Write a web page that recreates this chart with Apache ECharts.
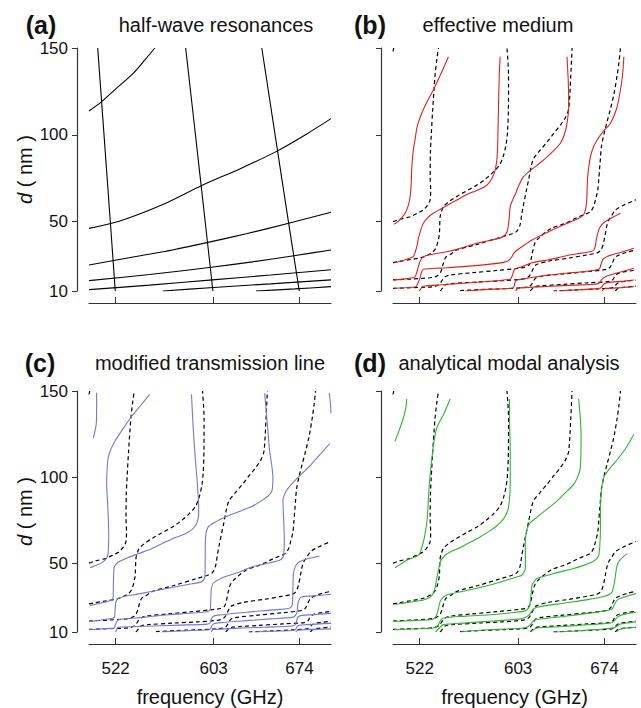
<!DOCTYPE html>
<html>
<head>
<meta charset="utf-8">
<script src="https://cdn.jsdelivr.net/npm/echarts@6/dist/echarts.min.js"></script>
<style>
  html, body { margin: 0; padding: 0; background: #fff; }
  #chart { width: 641px; height: 708px; }
</style>
</head>
<body>
<div id="chart"></div>
<script>
// axis ticks
var freqTicks = [522, 603, 674];
var dTicks = [10, 50, 100, 150];

// (a) half-wave resonances
var hwV1 = [[507.2,150],[517.6,50],[521.7,10]];
var hwV2 = [[579.9,150],[592.8,70],[602.4,10]];
var hwV3 = [[642.8,150],[664.8,50],[673.8,10]];
var hwH1 = [[500,113.7],[510.5,119.1],[523,127],[536.5,135.4],[546,143],[554.4,150]];
var hwH2 = [[500,46.1],[525.5,50.3],[560,59.5],[592.8,70.7],[625,80.5],[654.6,90.3],[680,100.5],[700,109.3]];
var hwH3 = [[500,25],[540,30],[570,33.8],[598.3,38],[630,43],[665,49],[700,55.4]];
var hwH4 = [[500,16],[550,19.5],[601,23.7],[635,26.8],[668,30.2],[700,33.6]];
var hwH5 = [[500,10.8],[550,13.4],[602,16.4],[650,19.2],[700,22.2]];
var hwH6 = [[561,10],[600,11.9],[650,14.1],[700,16.4]];
var hwH7 = [[638,10],[670,11.2],[700,12.5]];

// numerical reference (black dashed, panels b-d)
var numA = [[500,148],[500.6,150]];
var numB = [[500,50],[505,51.2],[514,52.8],[520,54.8],[525,56.7],[528.5,59.5],[530.5,62.4],[531,68],[530.6,76],[530.8,90],[531.5,100],[532.7,115],[534.6,134],[536,143],[537.4,150]];
var numC = [[500,26.3],[504.4,26.9],[515,28.2],[525,29.6],[531.9,32],[534.5,33.8],[536,36],[537.5,40],[538.2,43.2],[538.8,52.8],[540,56],[541.5,58.6],[546,61.5],[552.5,64.5],[560,67.5],[569,71],[576,74.5],[582.7,78.6],[588,83],[591,88.2],[593.2,95],[594.3,102],[595,115],[595.1,134],[593.8,150]];
var numD = [[500,16.4],[515,16.9],[527,17.4],[533.2,17.9],[536.5,18.8],[538.8,20.3],[540.3,23],[541.5,26],[543.5,29.5],[547,31],[552.5,33.6],[570,37],[588.2,40.9],[598,43],[602,44.5],[604.5,48],[606.1,54.8],[607.5,60],[609.5,67],[611.6,74],[613.5,81],[615.7,86.2],[621,91],[626.8,95.8],[632,100.5],[637.7,105.5],[642,110],[644.6,115],[646.3,134],[647.4,150]];
var numE = [[500,11.5],[515,11.9],[528,12.2],[533.2,12.5],[537,13.3],[538.8,14.4],[540.5,16.3],[542.9,18.2],[547,19.2],[565,20.5],[585,21.8],[603.4,23.1],[609,23.8],[612,25],[613.5,28],[615,33],[616.5,37],[619,39.8],[630,46],[641.9,49],[652,52.5],[659,54.5],[662.5,55.7],[665,58.5],[666.6,62.4],[668.5,68],[669.3,74],[670.2,82],[670.7,86.2],[671.5,93],[673.4,99.7],[676,107],[679,115],[682,124],[684.5,134.3],[686,142],[687.2,150]];
var numF = [[538.8,10],[540,11],[542.9,13.5],[548,14.2],[570,15.2],[590,15.9],[603.4,16.6],[609,17.2],[612,18.5],[613.8,20.5],[615.5,23],[618,25.2],[628,27.2],[645,29],[660,30.8],[668,32],[671,33.5],[673,37],[674.8,43.2],[676,47.5],[677.6,50.9],[680,53.5],[683.1,56.7],[690,59.5],[700,62.6]];
var numG = [[555.3,10.2],[570,10.8],[590,11.3],[605,11.8],[611,12.3],[613.5,13.3],[615.5,15.5],[617.5,17.5],[622,18.5],[640,19.8],[660,21.2],[676,22.5],[679,24],[681,27],[683,29.5],[687,31],[693,32.5],[700,33.6]];
var numH = [[613,10],[614.5,11.2],[617,12.5],[622,13],[640,13.8],[660,14.7],[678,15.5],[681,16.5],[682.5,18.5],[685,20],[690,21],[700,22]];
var numI = [[632,10],[650,10.6],[668,11.2],[680,11.8],[682.5,12.8],[684,14],[686.5,15],[692,15.6],[700,16.3]];
var numJ = [[683,10],[684.5,11.2],[688,12],[700,12.8]];

// (b) effective medium (red)
var emA = [[501,48.5],[505,50.5],[509.9,54.8],[512.5,59],[514,64],[515,72],[515.4,80],[516.5,90],[518.1,97],[520,105],[523.7,112.4],[528,119],[533.2,125.8],[540,136],[545.6,145]];
var emB = [[502,26.3],[504.4,26.9],[510,28],[514,29],[516.7,29.8],[518.3,32.5],[519.6,35.5],[521,40.5],[523,45.5],[525,49],[529,52.5],[533.2,54.8],[540,57.5],[552.5,62.4],[562,66],[571.8,68.7],[577.3,71],[581.5,75],[584.1,79.7],[585.5,86],[586.2,95],[586.8,116],[587.5,135],[588.2,145]];
var emC = [[501,16.4],[510,17],[516,17.6],[518.1,18.2],[519.5,20.5],[520.9,24],[522.5,27.5],[525,29.8],[535,31.5],[544.3,32.6],[555,34.5],[569,37.5],[580,39.2],[589.6,40.9],[592.5,42.5],[594.3,45.1],[595.5,51],[596.5,58.6],[598.5,62.5],[601,66.3],[604,71.5],[607.5,75.9],[615,80.5],[624,85.5],[631,90],[637.7,95.1],[641,100],[643.2,106.6],[644.6,116.2],[644.3,130],[643.2,145]];
var emD = [[501,11.6],[510,11.9],[516,12.2],[519,12.5],[520.5,14.5],[521.7,16.4],[523,19.5],[525,22.5],[540,23.2],[560,24.2],[580,25.5],[591,26.5],[595.5,27.8],[597.9,29.8],[599.5,31.8],[602,33.5],[606,35.5],[614.4,39.4],[628.1,44.2],[640,48],[652.9,51.9],[656.5,53.5],[658.4,56.7],[659.5,63],[659.8,70],[660.5,77.8],[662.5,87.4],[665,93],[668,97],[673,102],[679,106.6],[684,115],[687.2,125.8],[689,135],[690,145]];
var emE = [[521.5,10],[522.3,10.6],[524,12.3],[526,12.9],[540,13.6],[560,14.6],[580,15.6],[595,16.6],[597,17.2],[598.5,19.5],[599.5,21.8],[601.5,23.1],[606,23.9],[614.4,26.3],[628.1,28],[641.9,30.2],[655,31.8],[663,32.8],[665.2,33.5],[666.5,36],[667.4,40],[669.3,45.1],[671.5,48],[674.8,50],[681,52.5],[687.2,54.8]];
var emF = [[559.4,10],[570,10.6],[590,11.3],[598,11.6],[599.5,12.5],[600.3,14.5],[601.5,16.2],[606,16.8],[628.1,19.2],[655.6,21.1],[666,22],[669.9,22.8],[671,25],[672.7,28.1],[676,29.8],[680.4,30.9],[690,32.8],[698.2,34.6]];
var emG = [[601,10],[602,11],[604,11.8],[620,12.4],[640,13.1],[660,13.7],[668.5,14.1],[670.3,15],[671.5,16.4],[674.8,18.2],[685,20.5],[698.2,23.1]];
var emH = [[636.3,10],[650,10.6],[665,11.2],[670.5,11.6],[672,12.5],[673.5,14],[676,14.8],[690,15.7],[698.2,16.3]];
var emI = [[672,10],[673,10.8],[675,11.4],[690,12],[698.2,12.5]];

// (c) modified transmission line (blue)
var mtlA = [[503.6,122.7],[505,127],[506,131],[506.3,138],[506.3,149]];
var mtlB = [[500.8,47.3],[505,48.5],[510,50],[513.2,51.7],[515.2,54],[515.9,56.5],[516.3,65],[516,75],[515.4,85],[514.6,95.8],[515,105],[515.9,111.2],[518,116],[521.4,120.8],[528,128],[535.2,135.2],[542,141],[550.3,148.1]];
var mtlC = [[500.8,25.4],[510,26.8],[518.7,28.6],[520,30.5],[520.1,35],[520.3,42],[520.9,47.8],[522.5,49.5],[524.2,50.7],[532,53.2],[540.7,55.5],[551.7,58.4],[561.3,61.7],[570,64.5],[579.2,67],[585,69.5],[588.8,72.8],[590.5,77],[590.7,80.5],[589.6,95.8],[588.5,105],[587.4,115],[586,130],[584.7,148.1]];
var mtlD = [[500.8,16.1],[510,17],[518,17.8],[521,18.5],[521.4,21],[521.7,24],[522,26.7],[524.2,29.6],[540,32],[565.4,35.4],[585,38],[593,39.2],[595.7,42.1],[596,50],[596.2,63.2],[598.4,70.9],[606.6,74.7],[615,77.5],[625.9,80.5],[635,83],[642.4,86.2],[648,89],[651.2,92],[652,99.7],[651,107],[649.3,115],[647.5,130],[645.2,148.7]];
var mtlE = [[500,11.3],[510,11.8],[518,12.1],[521,12.3],[521.4,13.5],[522,14.6],[524.2,17.1],[545,18.5],[565.4,20],[585,21],[598.4,21.9],[600.3,23.5],[600.6,28],[601.2,35.4],[602.5,38.2],[606,40],[612.2,42.1],[625,45],[634.2,47.8],[648,50],[657.5,51.7],[660.3,53.5],[661,55.5],[661.4,62],[661.2,70],[660.8,76.7],[660.3,86.2],[663.1,92],[669.9,97.7],[683.7,107.4],[694.6,116],[699,119.5]];
var mtlF = [[522,10],[522.8,11.5],[524,12.7],[545,13.3],[575,14],[598,14.6],[600.3,15.5],[601,17.5],[602.5,19],[606.6,19.8],[630,21.5],[655,23],[666,24],[668,26],[668.5,35.4],[669,44],[670.5,48],[672.6,50.2],[675.4,51.3],[682,52.8],[690.5,54.2]];
var mtlG = [[560,10],[570,10.4],[585,10.9],[599,11.3],[600.5,12],[601.5,13.5],[603,14.8],[610,15.5],[630,16.6],[650,17.6],[668,18.5],[670.5,19.5],[672,22],[672.6,26],[673.5,28.6],[675.4,30.3],[690,31.2],[700,31.9]];
var mtlH = [[601,10],[601.8,11],[603,11.5],[620,12.1],[645,12.8],[668,13.5],[670.5,14.3],[671.5,16],[672.5,18.5],[675,19.5],[690,20.3],[700,20.8]];
var mtlI = [[637,10],[650,10.4],[668,10.9],[670.5,11.3],[671.5,12.5],[673,13.8],[680,14.3],[700,15]];
var mtlJ = [[671,10],[671.8,10.8],[674,11.2],[700,11.8]];
var mtlK = [[698.5,149],[699.5,143],[700,137]];

// (d) analytical modal analysis (green)
var amaA = [[501.6,120.8],[505,127],[508.5,134.3],[510.5,140],[511.3,145.4]];
var amaB = [[501.6,47.3],[506,49.3],[511.3,51.7],[516,53],[520.9,54.5],[523,57.5],[525,62.3],[526.4,67],[527.5,72],[528.3,76.7],[529.9,95.8],[532.7,115],[536,128.5],[541.5,136.2],[547,145.4]];
var amaC = [[502,26],[510,26.9],[520,28],[525,28.6],[530,30],[533.2,32.5],[535,37],[536,41.1],[537.5,46],[538.8,50.7],[542,54],[547,56.5],[555,59],[562.1,61.7],[570,64.5],[580,68.9],[586,72],[591,75.7],[593.5,79],[595.1,82.4],[596.5,95.8],[596.5,115],[596,130],[595.9,145.4]];
var amaD = [[501,16.2],[515,16.6],[530.5,17.1],[534,18],[536,20],[537.5,24],[538.8,27.7],[541,30],[544.3,31.5],[560,34],[580,37.3],[595,40.5],[602,42],[606.1,43],[608,45],[608.9,46.9],[609,55],[608.9,61.7],[610.3,69.9],[613,73.5],[618.5,76.7],[627,81.5],[635,86.2],[642,91],[648.7,95.8],[652,100],[654.2,105.5],[654.8,124.7],[652.8,145.4]];
var amaE = [[501,11.3],[515,11.7],[530,12.1],[533.2,12.3],[536,13.3],[537.4,14.3],[539,16.5],[541.5,18.1],[560,19.2],[580,20],[600,21.3],[607,22],[610.3,22.9],[612.3,25],[613,27.7],[613.8,33],[614.4,37.3],[616.5,39.5],[618.5,41.1],[635,44.5],[648.7,46.9],[658,49],[663.9,50.7],[667.5,52.5],[669.3,54.5],[670.2,60],[670.7,69.9],[670.7,76.7],[671.3,90.1],[673.4,99.7],[679,105.5],[685,110.5],[689.9,115],[694,119.5],[698.2,124.7]];
var amaF = [[535,10],[537,11.5],[539,13],[541.5,14.3],[560,15.3],[585,16.5],[605,17.6],[609,18.5],[612,20],[613.5,21.5],[616,23.5],[618.5,24.4],[640,26.7],[660,28.8],[673.4,30.6],[678,31.8],[680.4,33.4],[682.3,39.2],[683.5,45],[684.5,48.8],[687,52],[692.7,55.5]];
var amaG = [[556,10],[565,10.7],[585,11.5],[607.5,12.3],[611,13],[613,14.3],[615,16],[617.1,17.1],[640,19],[660,20.8],[679,22.9],[681,24],[682.3,26.1],[684.5,28.5],[687.2,29.6],[695,31.4],[700,32.3]];
var amaH = [[613,10],[615,11],[618.5,12.3],[640,13.2],[660,14.2],[679,15.2],[682,16.3],[684.5,18.5],[688,19.8],[700,21.5]];
var amaI = [[635,10],[650,10.6],[670,11.6],[681.7,12.4],[684.5,13.5],[687.2,14.6],[692,15.2],[700,15.9]];
var amaJ = [[684,10],[686,11.5],[690,12.1],[700,12.8]];

var hwCurves = [hwV1, hwV2, hwV3, hwH1, hwH2, hwH3, hwH4, hwH5, hwH6, hwH7];
var numCurves = [numA, numB, numC, numD, numE, numF, numG, numH, numI, numJ];
var emCurves = [emA, emB, emC, emD, emE, emF, emG, emH, emI];
var mtlCurves = [mtlA, mtlB, mtlC, mtlD, mtlE, mtlF, mtlG, mtlH, mtlI, mtlJ, mtlK];
var amaCurves = [amaA, amaB, amaC, amaD, amaE, amaF, amaG, amaH, amaI, amaJ];

var FONT = 'Liberation Sans, Arial, sans-serif';
var AXIS = '#333';

function curve(data, g, color, dashed) {
    return {
        type: 'line',
        xAxisIndex: g,
        yAxisIndex: g,
        data: data,
        symbol: 'none',
        showSymbol: false,
        smooth: 0.3,
        silent: true,
        lineStyle: {
            color: color,
            width: dashed ? 1.2 : 1.1,
            type: dashed ? [4, 3] : 'solid'
        }
    };
}

var grids = [
    { left: 89, top: 48, width: 242, height: 243 },
    { left: 393, top: 48, width: 243, height: 243 },
    { left: 89, top: 391, width: 242, height: 243 },
    { left: 393, top: 391, width: 243, height: 243 }
];

var xAxes = grids.map(function (g, i) {
    var bottom = i >= 2;
    return {
        type: 'value',
        gridIndex: i,
        min: 500,
        max: 700,
        offset: 12,
        splitLine: { show: false },
        axisLine: { lineStyle: { color: AXIS, width: 1.2 } },
        axisTick: { inside: true, length: 6, customValues: freqTicks, lineStyle: { color: AXIS } },
        axisLabel: { show: bottom, customValues: freqTicks, margin: 16, fontSize: 17, color: '#111', fontFamily: FONT },
        name: bottom ? 'frequency (GHz)' : '',
        nameLocation: 'middle',
        nameGap: 43,
        nameTextStyle: { fontSize: 20, color: '#111', fontFamily: FONT }
    };
});

var yAxes = grids.map(function (g, i) {
    var left = i % 2 === 0;
    return {
        type: 'value',
        gridIndex: i,
        min: 10,
        max: 150,
        offset: 12,
        splitLine: { show: false },
        axisLine: { lineStyle: { color: AXIS, width: 1.2 } },
        axisTick: { length: 5, customValues: dTicks, lineStyle: { color: AXIS } },
        axisLabel: { show: left, customValues: dTicks, margin: 9, fontSize: 17, color: '#111', fontFamily: FONT },
        name: left ? '{it|d} ( nm )' : '',
        nameLocation: 'middle',
        nameRotate: 90,
        nameGap: 42,
        nameTextStyle: {
            fontSize: 20, color: '#111', fontFamily: FONT,
            rich: { it: { fontStyle: 'italic', fontSize: 20, color: '#111', fontFamily: FONT } }
        }
    };
});

var series = [];
hwCurves.forEach(function (c) { series.push(curve(c, 0, '#000', false)); });
[1, 2, 3].forEach(function (g) {
    numCurves.forEach(function (c) { series.push(curve(c, g, '#000', true)); });
});
emCurves.forEach(function (c) { series.push(curve(c, 1, '#e3201b', false)); });
mtlCurves.forEach(function (c) { series.push(curve(c, 2, '#7276d8', false)); });
amaCurves.forEach(function (c) { series.push(curve(c, 3, '#2db52d', false)); });

function label(x, y, text, bold, size) {
    return {
        type: 'text', x: x, y: y,
        style: {
            text: text,
            fontFamily: FONT,
            fontSize: size,
            fontWeight: bold ? 'bold' : 'normal',
            fill: '#111',
            align: 'center',
            verticalAlign: 'middle'
        }
    };
}

var chart = echarts.init(document.getElementById('chart'), null, { renderer: 'svg' });
chart.setOption({
    animation: false,
    backgroundColor: '#fff',
    grid: grids,
    xAxis: xAxes,
    yAxis: yAxes,
    series: series,
    graphic: [
        label(41, 25, '(a)', true, 25),
        label(216, 25, 'half-wave resonances', false, 20),
        label(370, 25, '(b)', true, 25),
        label(498, 25, 'effective medium', false, 20),
        label(40, 363, '(c)', true, 25),
        label(210, 363, 'modified transmission line', false, 20),
        label(370, 363, '(d)', true, 25),
        label(509, 363, 'analytical modal analysis', false, 20)
    ]
});
</script>
</body>
</html>
